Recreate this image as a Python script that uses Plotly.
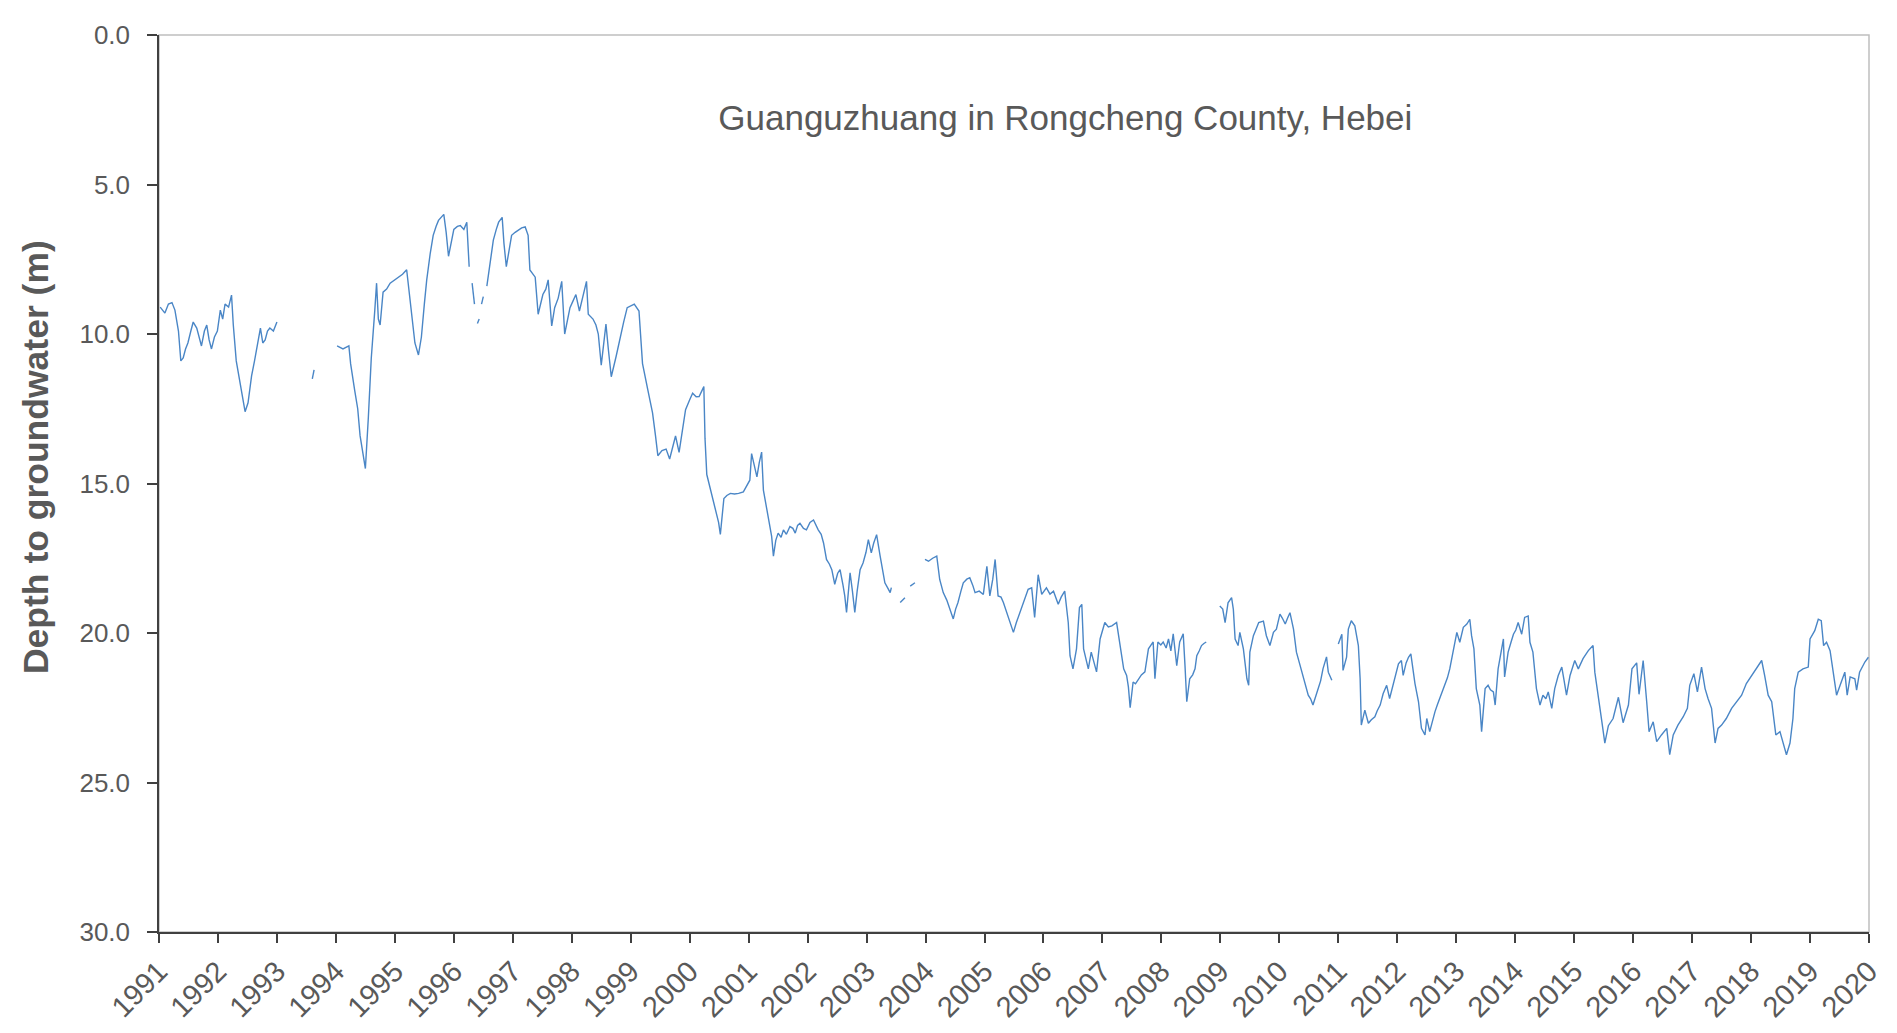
import plotly.graph_objects as go

# decimal year of each reading; None marks a gap in the record
t_year = [
    1991.02, 1991.10, 1991.16, 1991.22, 1991.27, 1991.33, 1991.37, 1991.41, 1991.45, 1991.49,
    1991.54, 1991.58, 1991.64, 1991.68, 1991.72, 1991.77, 1991.81, 1991.85, 1991.89, 1991.94,
    1991.99, 1992.04, 1992.08, 1992.12, 1992.18, 1992.23, 1992.26, 1992.31, 1992.37, 1992.42,
    1992.46, 1992.51, 1992.57, 1992.62, 1992.66, 1992.72, 1992.76, 1992.80, 1992.84, 1992.88,
    1992.94, 1993.00, None,
    1993.60, 1993.63, None,
    1994.02, 1994.12, 1994.22, 1994.25, 1994.32, 1994.37, 1994.41, 1994.46, 1994.50, 1994.55,
    1994.60, 1994.66, 1994.69, 1994.72, 1994.75, 1994.80, 1994.86, 1994.92, 1994.99, 1995.06,
    1995.13, 1995.20, 1995.25, 1995.30, 1995.34, 1995.40, 1995.45, 1995.50, 1995.54, 1995.60,
    1995.65, 1995.70, 1995.74, 1995.83, 1995.87, 1995.91, 1996.00, 1996.06, 1996.11, 1996.17,
    1996.22, 1996.26, None,
    1996.31, 1996.35, None,
    1996.40, 1996.43, None,
    1996.47, 1996.50, None,
    1996.56, 1996.62, 1996.67, 1996.72, 1996.76, 1996.82, 1996.85, 1996.89, 1996.94, 1996.98,
    1997.04, 1997.09, 1997.15, 1997.21, 1997.26, 1997.29, 1997.38, 1997.43, 1997.47, 1997.51,
    1997.56, 1997.60, 1997.66, 1997.71, 1997.77, 1997.83, 1997.88, 1997.93, 1997.97, 1998.02,
    1998.07, 1998.13, 1998.19, 1998.25, 1998.28, 1998.36, 1998.41, 1998.45, 1998.50, 1998.58,
    1998.62, 1998.67, 1998.75, 1998.83, 1998.88, 1998.94, 1999.00, 1999.06, 1999.14, 1999.20,
    1999.29, 1999.37, 1999.42, 1999.46, 1999.53, 1999.60, 1999.66, 1999.71, 1999.76, 1999.82,
    1999.88, 1999.93, 2000.00, 2000.05, 2000.11, 2000.16, 2000.24, 2000.26, 2000.29, 2000.34,
    2000.38, 2000.44, 2000.49, 2000.52, 2000.58, 2000.63, 2000.69, 2000.76, 2000.83, 2000.91,
    2000.96, 2001.02, 2001.05, 2001.10, 2001.14, 2001.18, 2001.22, 2001.25, 2001.30, 2001.35,
    2001.39, 2001.42, 2001.46, 2001.50, 2001.55, 2001.59, 2001.64, 2001.70, 2001.75, 2001.79,
    2001.83, 2001.87, 2001.93, 2001.98, 2002.04, 2002.10, 2002.14, 2002.18, 2002.23, 2002.27,
    2002.32, 2002.37, 2002.41, 2002.46, 2002.51, 2002.55, 2002.60, 2002.63, 2002.66, 2002.69,
    2002.72, 2002.76, 2002.80, 2002.84, 2002.89, 2002.94, 2002.99, 2003.03, 2003.08, 2003.12,
    2003.17, 2003.23, 2003.27, 2003.31, 2003.36, 2003.40, 2003.42, None,
    2003.57, 2003.65, None,
    2003.74, 2003.82, None,
    2003.99, 2004.05, 2004.12, 2004.19, 2004.24, 2004.30, 2004.36, 2004.41, 2004.47, 2004.51,
    2004.55, 2004.60, 2004.64, 2004.70, 2004.75, 2004.80, 2004.84, 2004.91, 2004.98, 2005.04,
    2005.09, 2005.14, 2005.18, 2005.23, 2005.28, 2005.32, 2005.36, 2005.40, 2005.45, 2005.49,
    2005.54, 2005.60, 2005.69, 2005.74, 2005.80, 2005.85, 2005.91, 2005.97, 2006.05, 2006.11,
    2006.17, 2006.25, 2006.30, 2006.36, 2006.42, 2006.45, 2006.50, 2006.56, 2006.61, 2006.65,
    2006.68, 2006.72, 2006.76, 2006.81, 2006.85, 2006.90, 2006.96, 2007.04, 2007.10, 2007.16,
    2007.24, 2007.30, 2007.36, 2007.41, 2007.44, 2007.47, 2007.52, 2007.56, 2007.61, 2007.66,
    2007.72, 2007.78, 2007.86, 2007.89, 2007.94, 2007.99, 2008.03, 2008.08, 2008.12, 2008.16,
    2008.20, 2008.26, 2008.31, 2008.37, 2008.40, 2008.43, 2008.48, 2008.53, 2008.57, 2008.60,
    2008.64, 2008.68, 2008.72, 2008.76, None,
    2008.99, 2009.04, 2009.08, 2009.13, 2009.19, 2009.22, 2009.25, 2009.30, 2009.33, 2009.39,
    2009.45, 2009.48, 2009.50, 2009.56, 2009.60, 2009.65, 2009.73, 2009.78, 2009.84, 2009.90,
    2009.95, 2010.01, 2010.05, 2010.10, 2010.14, 2010.18, 2010.24, 2010.29, 2010.34, 2010.38,
    2010.43, 2010.49, 2010.53, 2010.57, 2010.62, 2010.66, 2010.70, 2010.74, 2010.80, 2010.83,
    2010.89, None,
    2011.00, 2011.06, 2011.08, 2011.14, 2011.17, 2011.22, 2011.28, 2011.34, 2011.37, 2011.38,
    2011.39, 2011.45, 2011.51, 2011.56, 2011.62, 2011.66, 2011.71, 2011.76, 2011.82, 2011.87,
    2011.92, 2011.96, 2012.02, 2012.07, 2012.10, 2012.15, 2012.19, 2012.23, 2012.30, 2012.36,
    2012.41, 2012.47, 2012.50, 2012.55, 2012.60, 2012.64, 2012.68, 2012.72, 2012.76, 2012.81,
    2012.85, 2012.89, 2012.95, 2013.01, 2013.06, 2013.12, 2013.18, 2013.23, 2013.26, 2013.30,
    2013.34, 2013.40, 2013.43, 2013.49, 2013.54, 2013.58, 2013.63, 2013.66, 2013.71, 2013.76,
    2013.80, 2013.82, 2013.88, 2013.93, 2013.97, 2014.01, 2014.05, 2014.11, 2014.16, 2014.22,
    2014.25, 2014.30, 2014.33, 2014.36, 2014.42, 2014.47, 2014.52, 2014.56, 2014.62, 2014.67,
    2014.73, 2014.79, 2014.83, 2014.87, 2014.93, 2015.01, 2015.07, 2015.15, 2015.24, 2015.32,
    2015.35, 2015.41, 2015.47, 2015.52, 2015.58, 2015.66, 2015.70, 2015.75, 2015.83, 2015.92,
    2015.98, 2016.06, 2016.10, 2016.17, 2016.23, 2016.27, 2016.34, 2016.40, 2016.48, 2016.57,
    2016.62, 2016.68, 2016.76, 2016.85, 2016.92, 2016.96, 2017.03, 2017.09, 2017.16, 2017.22,
    2017.27, 2017.33, 2017.39, 2017.44, 2017.50, 2017.58, 2017.67, 2017.75, 2017.84, 2017.92,
    2018.01, 2018.09, 2018.18, 2018.23, 2018.29, 2018.35, 2018.38, 2018.42, 2018.49, 2018.55,
    2018.60, 2018.66, 2018.71, 2018.74, 2018.80, 2018.88, 2018.97, 2019.00, 2019.08, 2019.14,
    2019.19, 2019.23, 2019.28, 2019.34, 2019.39, 2019.45, 2019.51, 2019.59, 2019.63, 2019.68,
    2019.76, 2019.79, 2019.84, 2019.93, 2019.99,
]

# depth to groundwater (m), same order as t_year
depth_m = [
    9.1, 9.3, 9.0, 8.95, 9.2, 9.9, 10.9, 10.8, 10.5, 10.3,
    9.9, 9.6, 9.8, 10.1, 10.4, 9.9, 9.7, 10.2, 10.5, 10.1,
    9.9, 9.2, 9.5, 9.0, 9.1, 8.7, 9.7, 10.9, 11.6, 12.1,
    12.6, 12.3, 11.4, 10.9, 10.4, 9.8, 10.3, 10.2, 9.9, 9.8,
    9.9, 9.6, None,
    11.5, 11.2, None,
    10.4, 10.5, 10.4, 11.0, 11.9, 12.5, 13.4, 14.0, 14.5, 12.8,
    10.8, 9.2, 8.3, 9.5, 9.7, 8.6, 8.5, 8.3, 8.2, 8.1,
    8.0, 7.85, 8.7, 9.6, 10.3, 10.7, 10.1, 9.0, 8.2, 7.3,
    6.7, 6.4, 6.2, 6.0, 6.6, 7.4, 6.5, 6.4, 6.37, 6.5,
    6.26, 7.75, None,
    8.3, 9.0, None,
    9.65, 9.5, None,
    9.0, 8.75, None,
    8.4, 7.6, 6.86, 6.5, 6.26, 6.1, 6.97, 7.75, 7.1, 6.7,
    6.6, 6.53, 6.45, 6.42, 6.7, 7.86, 8.1, 9.34, 9.0, 8.68,
    8.5, 8.19, 9.73, 9.12, 8.8, 8.24, 10.0, 9.5, 9.12, 8.9,
    8.68, 9.23, 8.7, 8.24, 9.34, 9.5, 9.7, 10.0, 11.04, 9.67,
    10.5, 11.43, 10.77, 10.0, 9.6, 9.12, 9.05, 9.0, 9.23, 10.99,
    11.87, 12.64, 13.4, 14.07, 13.9, 13.85, 14.18, 13.8, 13.41, 13.96,
    13.2, 12.53, 12.2, 11.98, 12.1, 12.09, 11.76, 13.5, 14.7, 15.1,
    15.4, 15.94, 16.3, 16.7, 15.5, 15.4, 15.33, 15.35, 15.33, 15.28,
    15.1, 14.89, 14.0, 14.4, 14.78, 14.3, 13.95, 15.22, 15.77, 16.3,
    16.77, 17.43, 16.9, 16.66, 16.8, 16.55, 16.7, 16.44, 16.5, 16.66,
    16.4, 16.33, 16.5, 16.55, 16.3, 16.22, 16.4, 16.55, 16.7, 16.99,
    17.54, 17.7, 17.88, 18.37, 18.0, 17.88, 18.4, 18.76, 19.31, 18.5,
    17.99, 18.6, 19.31, 18.6, 17.88, 17.66, 17.3, 16.88, 17.32, 17.0,
    16.71, 17.43, 17.9, 18.32, 18.5, 18.65, 18.48, None,
    18.98, 18.82, None,
    18.43, 18.32, None,
    17.54, 17.6, 17.5, 17.43, 18.21, 18.65, 18.9, 19.2, 19.53, 19.2,
    18.98, 18.6, 18.32, 18.2, 18.15, 18.4, 18.65, 18.6, 18.71, 17.77,
    18.76, 18.2, 17.54, 18.76, 18.8, 18.98, 19.2, 19.42, 19.7, 19.98,
    19.65, 19.32, 18.88, 18.54, 18.49, 19.48, 18.05, 18.71, 18.49, 18.7,
    18.6, 19.04, 18.8, 18.6, 19.65, 20.76, 21.2, 20.53, 19.15, 19.04,
    20.53, 20.9, 21.2, 20.64, 20.9, 21.3, 20.2, 19.65, 19.8, 19.76,
    19.65, 20.42, 21.2, 21.42, 21.8, 22.5, 21.64, 21.7, 21.53, 21.4,
    21.3, 20.53, 20.3, 21.53, 20.3, 20.4, 20.3, 20.5, 20.2, 20.6,
    20.03, 21.09, 20.3, 20.03, 21.09, 22.3, 21.53, 21.4, 21.2, 20.76,
    20.6, 20.42, 20.35, 20.3, None,
    19.1, 19.2, 19.65, 18.99, 18.82, 19.21, 20.2, 20.42, 19.98, 20.53,
    21.53, 21.75, 20.64, 20.09, 19.9, 19.65, 19.6, 20.09, 20.42, 19.98,
    19.87, 19.37, 19.5, 19.7, 19.5, 19.32, 19.87, 20.64, 21.0, 21.3,
    21.64, 22.08, 22.2, 22.41, 22.1, 21.86, 21.6, 21.2, 20.8, 21.31,
    21.58, None,
    20.37, 20.04, 21.25, 20.81, 19.87, 19.59, 19.76, 20.42, 21.53, 22.74,
    23.08, 22.58, 23.02, 22.9, 22.8, 22.6, 22.41, 22.03, 21.75, 22.19,
    21.8, 21.53, 21.03, 20.92, 21.42, 21.0, 20.81, 20.7, 21.69, 22.3,
    23.19, 23.41, 22.86, 23.3, 22.9, 22.63, 22.4, 22.19, 22.0, 21.75,
    21.5, 21.2, 20.53, 19.98, 20.31, 19.81, 19.7, 19.54, 20.09, 20.53,
    21.86, 22.41, 23.3, 21.86, 21.75, 21.9, 21.97, 22.41, 21.2, 20.7,
    20.2, 21.47, 20.64, 20.3, 20.04, 19.9, 19.65, 20.04, 19.48, 19.43,
    20.31, 20.64, 21.2, 21.86, 22.41, 22.08, 22.2, 21.97, 22.52, 21.86,
    21.42, 21.14, 21.6, 22.08, 21.42, 20.92, 21.2, 20.86, 20.59, 20.42,
    21.31, 22.08, 22.97, 23.68, 23.1, 22.86, 22.5, 22.15, 23.0, 22.41,
    21.2, 21.0, 22.05, 20.92, 22.3, 23.3, 22.97, 23.63, 23.41, 23.19,
    24.07, 23.41, 23.08, 22.8, 22.52, 21.75, 21.36, 21.97, 21.14, 21.86,
    22.19, 22.52, 23.68, 23.19, 23.08, 22.86, 22.52, 22.3, 22.08, 21.69,
    21.42, 21.2, 20.92, 21.42, 22.08, 22.3, 22.74, 23.41, 23.3, 23.68,
    24.07, 23.68, 22.86, 21.86, 21.31, 21.2, 21.14, 20.2, 19.92, 19.54,
    19.59, 20.42, 20.31, 20.59, 21.25, 22.08, 21.75, 21.31, 22.08, 21.47,
    21.53, 21.91, 21.31, 20.97, 20.81,
]

year_ticks = list(range(1991, 2021))
depth_ticks = [0, 5, 10, 15, 20, 25, 30]

fig = go.Figure()
fig.add_trace(go.Scatter(
    x=t_year, y=depth_m, mode="lines", connectgaps=False,
    line=dict(color="#4A86C6", width=1.4), showlegend=False,
))

fig.update_layout(
    width=1897, height=1033,
    margin=dict(l=151, r=36, t=20, b=109),
    paper_bgcolor="white", plot_bgcolor="white",
    font=dict(family="Liberation Sans", color="#595959"),
    title=dict(
        text="Guanguzhuang in Rongcheng County, Hebei",
        x=0.530, xref="paper", xanchor="center",
        y=0.908, yref="paper", yanchor="middle",
        font=dict(size=35, color="#595959"),
    ),
    shapes=[dict(type="rect", xref="paper", yref="paper", x0=0, x1=1, y0=0, y1=1,
                 line=dict(color="#BFBFBF", width=1.5), layer="below")],
    annotations=[dict(
        text="<b>Depth to groundwater (m)</b>", textangle=-90,
        xref="paper", yref="paper", x=-0.0716, y=0.529,
        xanchor="center", yanchor="middle", showarrow=False,
        font=dict(size=35.5, color="#595959"),
    )],
)
fig.update_xaxes(
    range=[1991, 2020], tickvals=year_ticks, ticktext=[str(y) for y in year_ticks],
    tickangle=-45, tickfont=dict(size=29, color="#595959"),
    showgrid=False, zeroline=False,
    showline=True, linecolor="#404040", linewidth=1.5,
    ticks="outside", ticklen=9, tickwidth=1.5, tickcolor="#404040",
)
fig.update_yaxes(
    range=[30, 0], tickvals=depth_ticks, tickformat=".1f",
    tickfont=dict(size=26, color="#595959"), ticklabelstandoff=12,
    showgrid=False, zeroline=False,
    showline=True, linecolor="#404040", linewidth=1.5,
    ticks="outside", ticklen=10, tickwidth=1.5, tickcolor="#404040",
)

fig.write_html("out.html")
